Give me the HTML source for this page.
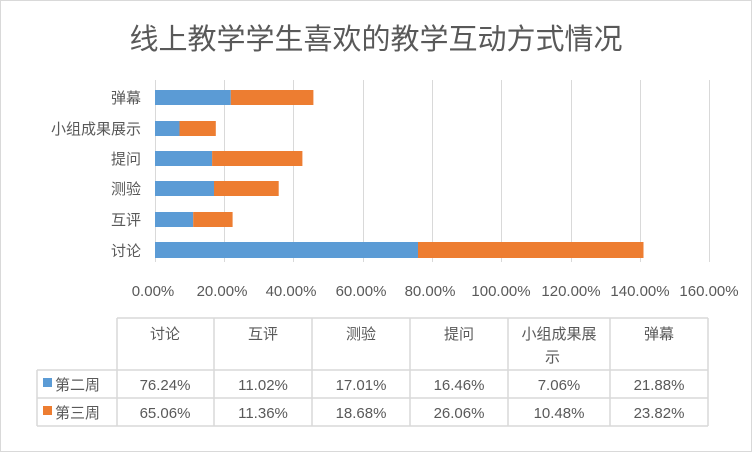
<!DOCTYPE html>
<html><head><meta charset="utf-8"><style>
body{margin:0;background:#fff;}
svg text{font-family:"Liberation Sans","Noto Sans CJK SC",sans-serif;fill:#595959;}
</style></head><body>
<svg width="752" height="452" xmlns="http://www.w3.org/2000/svg">
<rect x="0.5" y="0.5" width="751" height="451" fill="#fff" stroke="#d9d9d9"/>
<text x="376" y="49" font-size="29" text-anchor="middle" fill="#404040">线上教学学生喜欢的教学互动方式情况</text>
<g stroke="#d9d9d9" stroke-width="1">
<line x1="155.5" y1="80" x2="155.5" y2="262"/>
<line x1="224.5" y1="80" x2="224.5" y2="262"/>
<line x1="293.5" y1="80" x2="293.5" y2="262"/>
<line x1="363.5" y1="80" x2="363.5" y2="262"/>
<line x1="432.5" y1="80" x2="432.5" y2="262"/>
<line x1="501.5" y1="80" x2="501.5" y2="262"/>
<line x1="571.5" y1="80" x2="571.5" y2="262"/>
<line x1="640.5" y1="80" x2="640.5" y2="262"/>
<line x1="709.5" y1="80" x2="709.5" y2="262"/>
</g>
<g>
<rect x="155" y="90" width="75.8" height="15" fill="#5b9bd5"/><rect x="230.8" y="90" width="82.6" height="15" fill="#ed7d31"/>
<rect x="155" y="121" width="24.5" height="15" fill="#5b9bd5"/><rect x="179.5" y="121" width="36.3" height="15" fill="#ed7d31"/>
<rect x="155" y="151" width="57.1" height="15" fill="#5b9bd5"/><rect x="212.1" y="151" width="90.3" height="15" fill="#ed7d31"/>
<rect x="155" y="181" width="59" height="15" fill="#5b9bd5"/><rect x="214" y="181" width="64.7" height="15" fill="#ed7d31"/>
<rect x="155" y="212" width="38.2" height="15" fill="#5b9bd5"/><rect x="193.2" y="212" width="39.4" height="15" fill="#ed7d31"/>
<rect x="155" y="242" width="263" height="16" fill="#5b9bd5"/><rect x="418" y="242" width="225.5" height="16" fill="#ed7d31"/>
</g>
<g font-size="15" text-anchor="end">
<text x="141" y="103">弹幕</text>
<text x="141" y="134">小组成果展示</text>
<text x="141" y="164">提问</text>
<text x="141" y="194">测验</text>
<text x="141" y="225">互评</text>
<text x="141" y="256">讨论</text>
</g>
<g font-size="15" text-anchor="middle">
<text x="153" y="296">0.00%</text>
<text x="222" y="296">20.00%</text>
<text x="291" y="296">40.00%</text>
<text x="361" y="296">60.00%</text>
<text x="430" y="296">80.00%</text>
<text x="501" y="296">100.00%</text>
<text x="571" y="296">120.00%</text>
<text x="640" y="296">140.00%</text>
<text x="709" y="296">160.00%</text>
</g>
<g stroke="#d9d9d9" stroke-width="1.5" fill="none">
<line x1="117" y1="318" x2="708" y2="318"/>
<line x1="37" y1="370" x2="708" y2="370"/>
<line x1="37" y1="398" x2="708" y2="398"/>
<line x1="37" y1="426" x2="708" y2="426"/>
<line x1="37" y1="370" x2="37" y2="426"/>
<line x1="117" y1="318" x2="117" y2="426"/>
<line x1="214" y1="318" x2="214" y2="426"/>
<line x1="312" y1="318" x2="312" y2="426"/>
<line x1="410" y1="318" x2="410" y2="426"/>
<line x1="508" y1="318" x2="508" y2="426"/>
<line x1="610" y1="318" x2="610" y2="426"/>
<line x1="708" y1="318" x2="708" y2="426"/>
</g>
<g font-size="15" text-anchor="middle">
<text x="165" y="339">讨论</text>
<text x="263" y="339">互评</text>
<text x="361" y="339">测验</text>
<text x="459" y="339">提问</text>
<text x="559" y="339">小组成果展</text>
<text x="545" y="362" text-anchor="start">示</text>
<text x="659" y="339">弹幕</text>
<text x="165" y="390">76.24%</text><text x="263" y="390">11.02%</text><text x="361" y="390">17.01%</text><text x="459" y="390">16.46%</text><text x="559" y="390">7.06%</text><text x="659" y="390">21.88%</text>
<text x="165" y="418">65.06%</text><text x="263" y="418">11.36%</text><text x="361" y="418">18.68%</text><text x="459" y="418">26.06%</text><text x="559" y="418">10.48%</text><text x="659" y="418">23.82%</text>
</g>
<rect x="43" y="378" width="9" height="9" fill="#5b9bd5"/>
<rect x="43" y="406" width="9" height="9" fill="#ed7d31"/>
<g font-size="15"><text x="55" y="390">第二周</text><text x="55" y="418">第三周</text></g>
</svg>
</body></html>
